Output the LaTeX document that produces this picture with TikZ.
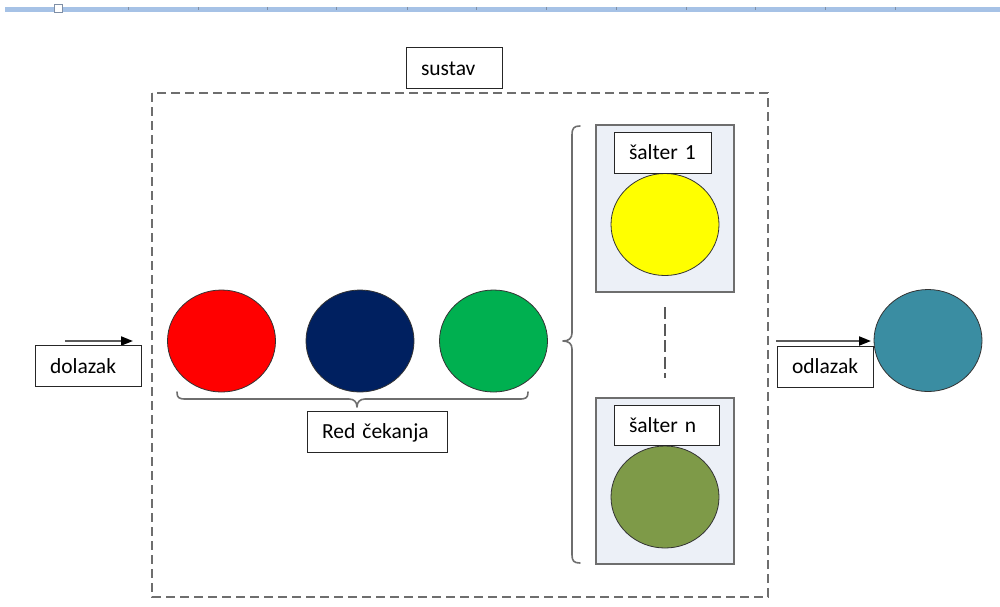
\documentclass[tikz,border=0pt]{standalone}
\usepackage{fontspec}
\setmainfont{Carlito}
\usetikzlibrary{arrows.meta,shapes.geometric}

\definecolor{rulerblue}{HTML}{A6C2E6}
\definecolor{rulertick}{HTML}{7F8FA6}
\definecolor{framegray}{HTML}{6E6E6E}
\definecolor{panelfill}{HTML}{ECF0F7}
\definecolor{cred}{HTML}{FF0000}
\definecolor{cnavy}{HTML}{002060}
\definecolor{cgreen}{HTML}{00B050}
\definecolor{cyellow}{HTML}{FFFF00}
\definecolor{colive}{HTML}{7E9A48}
\definecolor{cteal}{HTML}{3A8DA2}
\definecolor{shaftgray}{HTML}{5A5A5A}

\begin{document}
\begin{tikzpicture}[x=1pt,y=-1pt,
  font=\fontsize{21.5}{25}\selectfont,
  lbl/.style={draw=black!85, line width=0.9pt, fill=white, inner xsep=15pt, inner ysep=0pt,
    align=left, text height=16pt, text depth=2pt, minimum height=41pt},
  client/.style={ellipse, draw=black!80, line width=0.8pt, inner sep=0pt,
    minimum width=108pt, minimum height=102pt},
  panel/.style={draw=framegray, line width=2pt, fill=panelfill},
  flow/.style={draw=shaftgray, line width=2pt, -{Triangle[length=12pt,width=9pt,color=black]}},
  bracket/.style={draw=framegray, line width=1.6pt, line cap=round, line join=round},
]
\useasboundingbox (0,0) rectangle (1000,606);

% ruler strip along the top edge
\fill[rulerblue] (5,7) rectangle (1000,12);
\foreach \t in {128,198,267,336,407,476,546,616,686,755,825,895}
  \draw[rulertick, line width=0.6pt] (\t,7) -- (\t,9.5);
\draw[rulertick, fill=white, line width=0.6pt] (54,4) rectangle (62,12);

% system boundary
\draw[framegray, line width=2pt, dash pattern=on 9pt off 5pt] (152,93) rectangle (768,597);
\node[lbl, text width=66pt] (sustav) at (454,68) {sustav};

% arrivals
\coordinate (inStart) at (65,341);
\coordinate (inEnd) at (133,341);
\draw[flow] (inStart) -- (inEnd);
\node[lbl, text width=76pt] (dolazak) at (88,366) {dolazak};

% waiting queue
\node[client, fill=cred]   (q1) at (221.5,341) {};
\node[client, fill=cnavy]  (q2) at (360,341) {};
\node[client, fill=cgreen] (q3) at (493.5,341) {};

\draw[bracket] (177,392) .. controls (177,398) and (179,399) .. (186,399)
  -- (349,399) .. controls (354,399) and (357,402) .. (357,407)
  .. controls (357,402) and (360,399) .. (365,399)
  -- (519,399) .. controls (526,399) and (528,398) .. (528,392);
\node[lbl, text width=110pt] (red) at (377,431.5) {Red čekanja};

% service counters
\draw[bracket] (580,126) .. controls (574,126) and (572,128) .. (572,135)
  -- (572,333) .. controls (572,338) and (569,341) .. (563,341)
  .. controls (569,341) and (572,344) .. (572,349)
  -- (572,555) .. controls (572,561) and (574,563) .. (580,563);

\node[panel, minimum width=138pt, minimum height=167pt, inner sep=0pt] (panel1) at (665,208.5) {};
\node[client, fill=cyellow] (s1) at (665,224.5) {};
\node[lbl, text width=67pt] (lbl1) at (662.5,152.5) {šalter 1};

\node[panel, minimum width=138pt, minimum height=166pt, inner sep=0pt] (paneln) at (665,481) {};
\node[client, fill=colive] (sn) at (665,497) {};
\node[lbl, text width=75pt, minimum height=40pt] (lbln) at (666.5,425) {šalter n};

\coordinate (gapTop) at (665,307);
\coordinate (gapBot) at (665,378);
\draw[black!65, line width=2pt, dash pattern=on 12pt off 4.5pt] (gapTop) -- (gapBot);

% departures
\coordinate (outStart) at (776,341);
\coordinate (outEnd) at (871,341);
\draw[flow] (outStart) -- (outEnd);
\node[lbl, text width=66pt] (odlazak) at (825,366.5) {odlazak};
\node[client, fill=cteal] (done) at (928,340.5) {};
\end{tikzpicture}
\end{document}
